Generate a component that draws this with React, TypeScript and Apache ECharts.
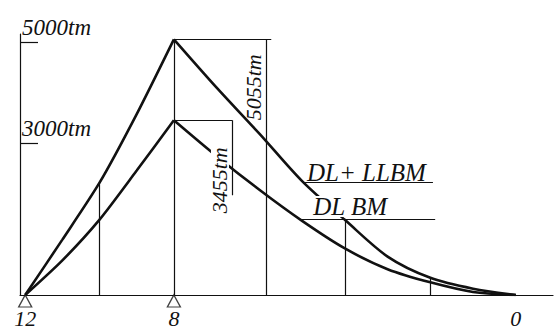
import React, { useEffect, useRef } from "react";
import * as echarts from "echarts";

// Panel-point positions along the girder (distance units) and their node numbers
const xNodes = [0, 10, 20, 30, 40, 51.5, 63, 74.5, 86, 97.5, 109, 120.5, 132];
const nodeDists = [0, 40, 132];
const nodeLabels = ["12", "8", "0"];
const supports = [0, 40];

// Bending moments (tm) at each panel point
const dlLLBM = [0, 1095, 2220, 3577, 5055, 4100, 3190, 2250, 1486, 760, 340, 125, 0];
const dlBM = [0, 684, 1490, 2460, 3455, 2745, 2080, 1465, 920, 510, 250, 60, 0];

// y-axis reference ticks (tm)
const yTicks = [3000, 5000];

// Dimension annotations
const peakLL = 5055;
const peakDL = 3455;

const FONT = "'Liberation Serif', 'DejaVu Serif', serif";
const INK = "#111";

export default function App() {
  const ref = useRef<HTMLDivElement>(null);

  useEffect(() => {
    if (!ref.current) return;
    const chart = echarts.init(ref.current, null, { renderer: "svg" });

    const pts = (vals: number[], from: number, to: number) =>
      xNodes.slice(from, to + 1).map((x, i) => [x, vals[from + i]]);

    const segments: number[][][] = [
      // top dimension: horizontal from peak, vertical down to baseline
      [[40, peakLL], [66.2, peakLL]],
      [[64.8, peakLL], [64.8, 0]],
      // pier vertical
      [[40, peakLL], [40, 0]],
      // lower dimension
      [[40, peakDL], [55.7, peakDL]],
      [[55.7, peakDL], [55.7, 1974]],
      // panel verticals
      [[xNodes[2], dlLLBM[2]], [xNodes[2], 0]],
      [[xNodes[8], dlLLBM[8]], [xNodes[8], 0]],
      [[xNodes[10], dlLLBM[10]], [xNodes[10], 0]],
      // underlines for legends
      [[75.3, 2228], [109.7, 2228]],
      [[74.0, 1505], [110.3, 1505]],
    ];

    const curveStyle = { color: INK, width: 2.6 };

    chart.setOption({
      animation: false,
      backgroundColor: "#fff",
      grid: { left: 20, right: 4, top: 34, bottom: 31, containLabel: false },
      xAxis: {
        type: "value",
        min: -1.4,
        max: 142,
        axisLine: { show: true, onZero: false, lineStyle: { color: INK, width: 1.2 } },
        axisTick: { show: false },
        splitLine: { show: false },
        axisLabel: {
          customValues: nodeDists,
          formatter: (v: number) => nodeLabels[nodeDists.indexOf(v)] ?? "",
          margin: 12,
          color: INK,
          fontFamily: FONT,
          fontStyle: "italic",
          fontSize: 22,
        },
      },
      yAxis: {
        type: "value",
        min: 0,
        max: 5160,
        axisLine: { show: true, onZero: false, lineStyle: { color: INK, width: 1.2 } },
        axisTick: {
          show: true,
          inside: true,
          length: 18,
          customValues: yTicks,
          lineStyle: { color: INK, width: 1.2 },
        },
        splitLine: { show: false },
        axisLabel: {
          customValues: yTicks,
          inside: true,
          formatter: (v: number) => `${v}tm`,
          align: "left",
          verticalAlign: "bottom",
          margin: 2,
          padding: [0, 0, 3, 0],
          color: INK,
          fontFamily: FONT,
          fontStyle: "italic",
          fontSize: 23,
        },
      },
      series: [
        {
          type: "lines",
          coordinateSystem: "cartesian2d",
          data: segments.map((s) => ({ coords: s })),
          lineStyle: { color: INK, width: 1.2, opacity: 1 },
          silent: true,
          z: 2,
        },
        { type: "line", data: pts(dlLLBM, 0, 4), smooth: 0.25, showSymbol: false, lineStyle: curveStyle, z: 3 },
        { type: "line", data: pts(dlLLBM, 4, 12), smooth: 0.3, showSymbol: false, lineStyle: curveStyle, z: 3 },
        { type: "line", data: pts(dlBM, 0, 4), smooth: 0.25, showSymbol: false, lineStyle: curveStyle, z: 3 },
        { type: "line", data: pts(dlBM, 4, 12), smooth: 0.3, showSymbol: false, lineStyle: curveStyle, z: 3 },
        {
          type: "scatter",
          data: supports.map((x) => [x, 0]),
          symbol: "triangle",
          symbolSize: [13, 12],
          symbolOffset: [0, 6],
          itemStyle: { color: "#fff", borderColor: INK, borderWidth: 1.3 },
          z: 5,
        },
      ],
    });

    const toPx = (p: number[]) => chart.convertToPixel({ gridIndex: 0 }, p) as number[];

    const texts = [
      { text: "5055tm", at: [61.3, 4105], rot: Math.PI / 2, size: 22, align: "center", bg: false },
      { text: "3455tm", at: [52.4, 2267], rot: Math.PI / 2, size: 22, align: "center", bg: true },
      { text: "DL+ LLBM", at: [75.8, 2424], rot: 0, size: 25, align: "left", bg: false },
      { text: "DL BM", at: [77.2, 1749], rot: 0, size: 25, align: "left", bg: true },
    ];

    chart.setOption({
      graphic: texts.map((t) => {
        const [x, y] = toPx(t.at);
        return {
          type: "text",
          x,
          y,
          rotation: t.rot,
          z: 10,
          style: {
            text: t.text,
            fill: INK,
            font: `italic ${t.size}px ${FONT}`,
            align: t.align,
            verticalAlign: "middle",
            lineHeight: t.size - 4,
            backgroundColor: t.bg ? "#fff" : undefined,
            padding: t.bg ? [0, 1] : 0,
          },
        };
      }),
    });

    return () => chart.dispose();
  }, []);

  return (
    <div
      ref={ref}
      style={{ position: "fixed", left: 0, top: 0, width: 557, height: 329, background: "#fff" }}
    />
  );
}
